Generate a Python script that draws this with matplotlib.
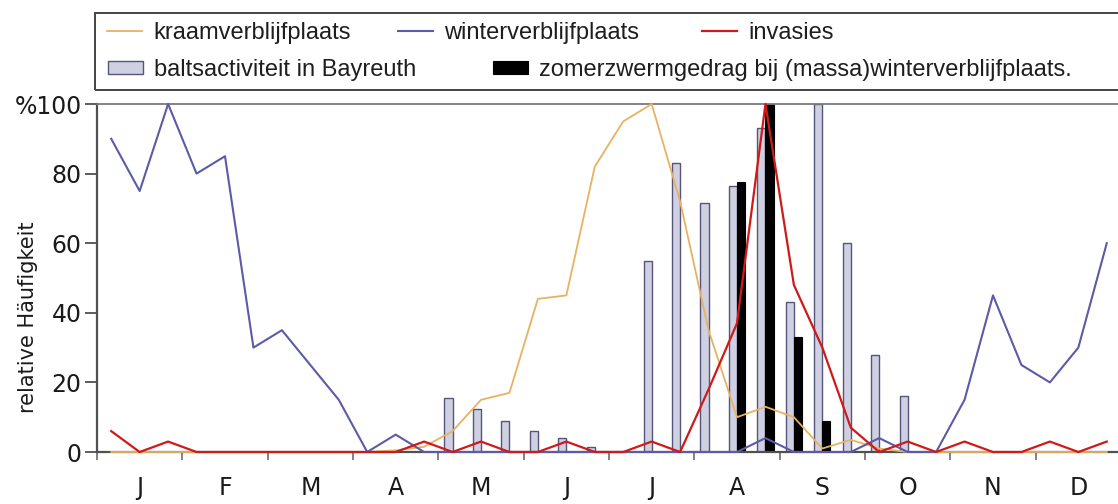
import matplotlib.pyplot as plt
from matplotlib.patches import Rectangle
import numpy as np

W, H = 1118, 504

months = ['J', 'F', 'M', 'A', 'M', 'J', 'J', 'A', 'S', 'O', 'N', 'D']

# three values per month (decades), grouped per month
kraam = [0, 0, 0,  0, 0, 0,  0, 0, 0,  0, 0.5, 1.5,
         6, 15, 17,  44, 45, 82,  95, 100, 72,  35, 10, 13,
         10, 1, 3.5,  1, 0, 0,  0, 0, 0,  0, 0, 0]
winter = [90, 75, 100,  80, 85, 30,  35, 25, 15,  0, 5, 0,
          0, 0, 0,  0, 0, 0,  0, 0, 0,  0, 0, 4,
          0, 0, 0,  4, 0, 0,  15, 45, 25,  20, 30, 60]
invasies = [6, 0, 3,  0, 0, 0,  0, 0, 0,  0, 0, 3,
            0, 3, 0,  0, 3, 0,  0, 3, 0,  18, 37, 100,
            48, 30, 7,  0, 3, 0,  3, 0, 0,  3, 0, 3]
balts = [0, 0, 0,  0, 0, 0,  0, 0, 0,  0, 0, 0,
         15.5, 12.5, 9,  6, 4, 1.5,  0, 55, 83,  71.5, 76.5, 93,
         43, 100, 60,  28, 16, 0,  0, 0, 0,  0, 0, 0]
zomer = [0, 0, 0,  0, 0, 0,  0, 0, 0,  0, 0, 0,
         0, 0, 0,  0, 0, 0,  0, 0, 0,  0, 77.5, 100,
         33, 9, 0,  0, 0, 0,  0, 0, 0,  0, 0, 0]

labels = ['kraamverblijfplaats', 'winterverblijfplaats', 'invasies',
          'baltsactiviteit in Bayreuth',
          'zomerzwermgedrag bij (massa)winterverblijfplaats.']

c_kraam = '#e8b262'
c_winter = '#5b5ba8'
c_inv = '#d01a1a'
c_grey = '#cfd0e2'
c_axis = '#505050'

x = (np.arange(36) + 0.5) / 3.0
balts = np.array(balts, dtype=float)
zomer = np.array(zomer, dtype=float)
bw = 0.095

fig = plt.figure(figsize=(W / 100, H / 100), dpi=100)
ax = fig.add_axes([97 / W, 52 / H, 1024 / W, 348 / H])

mb = balts > 0
bar_b = ax.bar(x[mb] - bw / 2, balts[mb], width=bw, color=c_grey,
               edgecolor='#55557a', linewidth=1.0, zorder=2)
mz = zomer > 0
bar_z = ax.bar(x[mz] + bw / 2, zomer[mz], width=bw, color='black',
               edgecolor='black', linewidth=0.8, zorder=2)

l_k, = ax.plot(x, kraam, color=c_kraam, lw=1.3, zorder=3, clip_on=False)
l_w, = ax.plot(x, winter, color=c_winter, lw=1.5, zorder=3, clip_on=False)
l_i, = ax.plot(x, invasies, color=c_inv, lw=1.6, zorder=4, clip_on=False)

ax.set_xlim(0, 12)
ax.set_ylim(0, 100)

for s in ['left', 'bottom']:
    ax.spines[s].set_color(c_axis)
    ax.spines[s].set_linewidth(1.6)
ax.spines['top'].set_color('#7a7a7a')
ax.spines['top'].set_linewidth(1.3)
ax.spines['right'].set_visible(False)

ax.set_yticks(range(0, 101, 20))
ax.set_yticklabels(['0', '20', '40', '60', '80', '%100'])
ax.tick_params(axis='y', direction='out', length=9, width=1.3,
               color=c_axis, pad=2, labelsize=17, labelcolor='#1a1a1a')

ax.set_xticks(np.arange(0, 13))
ax.set_xticklabels([])
ax.set_xticks(np.arange(12) + 0.5, minor=True)
ax.set_xticklabels(months, minor=True)
ax.tick_params(axis='x', which='major', direction='out', length=6,
               width=1.3, color='#777777')
ax.tick_params(axis='x', which='minor', length=0, pad=17, labelsize=17,
               labelcolor='#1a1a1a')

fig.text(28 / W, 1 - 317 / H, 'relative Häufigkeit', rotation=90,
         ha='center', va='center', fontsize=15, color='#1a1a1a')

# legend frame
fig.patches.append(Rectangle((95 / W, 1 - 90 / H), 1030 / W, 77 / H,
                             transform=fig.transFigure, fill=False,
                             edgecolor='#444444', linewidth=1.4))


def put_legend(handle, label, x_px, y_px, hh=0.7):
    leg = fig.legend([handle], [label], loc='center left',
                     bbox_to_anchor=(x_px / W, 1 - y_px / H),
                     frameon=False, borderpad=0, borderaxespad=0,
                     handlelength=1.48, handletextpad=0.47, handleheight=hh,
                     prop={'family': 'Liberation Sans', 'size': 17})
    for t in leg.get_texts():
        t.set_color('#1e1e1e')
    return leg


put_legend(l_k, labels[0], 107, 33)
put_legend(l_w, labels[1], 398, 33)
put_legend(l_i, labels[2], 702, 33)
put_legend(bar_b, labels[3], 108, 70, hh=0.42)
put_legend(bar_z, labels[4], 493, 70, hh=0.42)

fig.savefig('out.png', dpi=100)
